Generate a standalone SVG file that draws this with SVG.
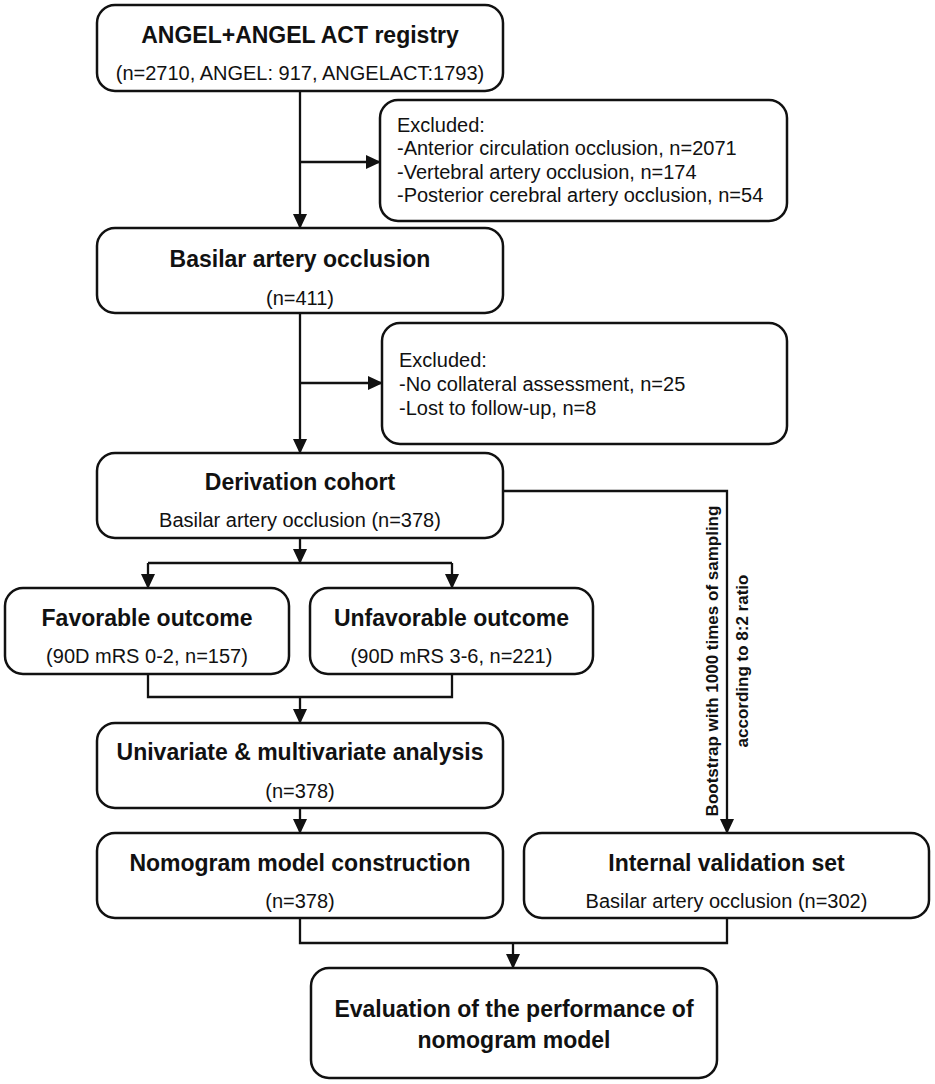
<svg xmlns="http://www.w3.org/2000/svg" width="935" height="1084" viewBox="0 0 935 1084">
<style>
  .box { fill: #fff; stroke: #111; stroke-width: 2.5; }
  .t { font-family: "Liberation Sans", Arial, sans-serif; font-weight: bold; font-size: 23px; fill: #111; text-anchor: middle; }
  .s { font-family: "Liberation Sans", Arial, sans-serif; font-size: 20px; fill: #111; text-anchor: middle; }
  .l { font-family: "Liberation Sans", Arial, sans-serif; font-size: 20px; fill: #111; }
  .r { font-family: "Liberation Sans", Arial, sans-serif; font-weight: bold; font-size: 17px; fill: #111; text-anchor: middle; }
  .c { fill: none; stroke: #111; stroke-width: 2.3; }
</style>
<defs>
  <marker id="ah" markerUnits="userSpaceOnUse" markerWidth="16" markerHeight="15" refX="14" refY="7" orient="auto">
    <path d="M0,0 L15,7 L0,14 z" fill="#111"/>
  </marker>
</defs>
<rect width="935" height="1084" fill="#fff"/>

<g id="connectors">
  <path class="c" d="M300,91 V228" marker-end="url(#ah)"/>
  <path class="c" d="M300,162 H380" marker-end="url(#ah)"/>
  <path class="c" d="M300,313 V453" marker-end="url(#ah)"/>
  <path class="c" d="M300,383 H382" marker-end="url(#ah)"/>
  <path class="c" d="M300,538 V563" marker-end="url(#ah)"/>
  <path class="c" d="M148,563 H452"/>
  <path class="c" d="M148,563 V588" marker-end="url(#ah)"/>
  <path class="c" d="M452,563 V588" marker-end="url(#ah)"/>
  <path class="c" d="M148,674 V697 H452 V674"/>
  <path class="c" d="M300,697 V723" marker-end="url(#ah)"/>
  <path class="c" d="M300,808 V833" marker-end="url(#ah)"/>
  <path class="c" d="M503,491 H727 V833" marker-end="url(#ah)"/>
  <path class="c" d="M300,918 V943 H727 V918"/>
  <path class="c" d="M513,943 V968" marker-end="url(#ah)"/>
  <text class="r" transform="translate(718,661) rotate(-90)">Bootstrap with 1000 times of sampling</text>
  <text class="r" transform="translate(748,661) rotate(-90)">according to 8:2 ratio</text>
</g>

<g id="registry">
  <rect class="box" x="97" y="5" width="406" height="86" rx="18"/>
  <text class="t" x="300" y="43">ANGEL+ANGEL ACT registry</text>
  <text class="s" x="300" y="80">(n=2710, ANGEL: 917, ANGELACT:1793)</text>
</g>

<g id="excluded1">
  <rect class="box" x="380" y="100" width="407" height="121" rx="18"/>
  <text class="l" x="397" y="132">Excluded:</text>
  <text class="l" x="397" y="155">-Anterior circulation occlusion, n=2071</text>
  <text class="l" x="397" y="179">-Vertebral artery occlusion, n=174</text>
  <text class="l" x="397" y="202">-Posterior cerebral artery occlusion, n=54</text>
</g>

<g id="basilar">
  <rect class="box" x="97" y="228" width="406" height="85" rx="18"/>
  <text class="t" x="300" y="267">Basilar artery occlusion</text>
  <text class="s" x="300" y="305">(n=411)</text>
</g>

<g id="excluded2">
  <rect class="box" x="382" y="323" width="405" height="121" rx="18"/>
  <text class="l" x="399" y="367">Excluded:</text>
  <text class="l" x="399" y="391">-No collateral assessment, n=25</text>
  <text class="l" x="399" y="415">-Lost to follow-up, n=8</text>
</g>

<g id="derivation">
  <rect class="box" x="97" y="453" width="406" height="85" rx="18"/>
  <text class="t" x="300" y="490">Derivation cohort</text>
  <text class="s" x="300" y="527">Basilar artery occlusion (n=378)</text>
</g>

<g id="favorable">
  <rect class="box" x="5" y="588" width="284" height="86" rx="18"/>
  <text class="t" x="147" y="626">Favorable outcome</text>
  <text class="s" x="147" y="663">(90D mRS 0-2, n=157)</text>
</g>

<g id="unfavorable">
  <rect class="box" x="310" y="588" width="283" height="86" rx="18"/>
  <text class="t" x="451.5" y="626">Unfavorable outcome</text>
  <text class="s" x="451.5" y="663">(90D mRS 3-6, n=221)</text>
</g>

<g id="univariate">
  <rect class="box" x="97" y="723" width="406" height="85" rx="18"/>
  <text class="t" x="300" y="760">Univariate &amp; multivariate analysis</text>
  <text class="s" x="300" y="798">(n=378)</text>
</g>

<g id="nomogram">
  <rect class="box" x="97" y="833" width="406" height="85" rx="18"/>
  <text class="t" x="300" y="871">Nomogram model construction</text>
  <text class="s" x="300" y="908">(n=378)</text>
</g>

<g id="internal">
  <rect class="box" x="524" y="833" width="405" height="85" rx="18"/>
  <text class="t" x="726.5" y="871">Internal validation set</text>
  <text class="s" x="726.5" y="908">Basilar artery occlusion (n=302)</text>
</g>

<g id="evaluation">
  <rect class="box" x="311" y="968" width="406" height="110" rx="18"/>
  <text class="t" x="514" y="1017">Evaluation of the performance of</text>
  <text class="t" x="514" y="1048">nomogram model</text>
</g>
</svg>
